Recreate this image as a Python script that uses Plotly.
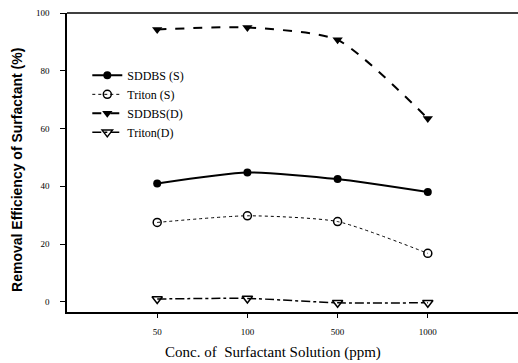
import plotly.graph_objects as go

conc = ["50", "100", "500", "1000"]
sddbs_s = [41.0, 44.8, 42.5, 38.0]
triton_s = [27.5, 29.8, 27.8, 16.8]
sddbs_d = [94.3, 95.0, 90.7, 63.5]
triton_d = [1.0, 1.2, -0.3, -0.3]
y_ticks = [0, 20, 40, 60, 80, 100]

xi = list(range(len(conc)))

fig = go.Figure()
fig.add_trace(go.Scatter(x=xi, y=sddbs_s, name="SDDBS (S)", mode="lines+markers",
                         line=dict(color="black", width=2, shape="spline", smoothing=0.6),
                         marker=dict(symbol="circle", size=8, color="black")))
fig.add_trace(go.Scatter(x=xi, y=triton_s, name="Triton (S)", mode="lines+markers",
                         line=dict(color="black", width=1, dash="dot", shape="spline", smoothing=0.6),
                         marker=dict(symbol="circle-open", size=8, color="black", line=dict(width=1.5))))
fig.add_trace(go.Scatter(x=xi, y=sddbs_d, name="SDDBS(D)", mode="lines+markers",
                         line=dict(color="black", width=2, dash="dash", shape="spline", smoothing=0.6),
                         marker=dict(symbol="triangle-down", size=9, color="black")))
fig.add_trace(go.Scatter(x=xi, y=triton_d, name="Triton(D)", mode="lines+markers",
                         line=dict(color="black", width=1.5, dash="dashdot", shape="spline", smoothing=0.6),
                         marker=dict(symbol="triangle-down-open", size=9, color="black", line=dict(width=1.5))))

serif = "Liberation Serif, Times New Roman, serif"
sans = "Liberation Sans, Arial, sans-serif"
fig.update_layout(
    width=518, height=363,
    margin=dict(l=67, r=0, t=13, b=51),
    paper_bgcolor="white", plot_bgcolor="white",
    font=dict(family=serif, color="black"),
    showlegend=True,
    legend=dict(x=0.045, y=0.84, xanchor="left", yanchor="top",
                font=dict(family=serif, size=12, color="black"),
                bgcolor="rgba(0,0,0,0)", tracegroupgap=0, itemwidth=30),
    xaxis=dict(range=[-1, 4], tickmode="array", tickvals=xi, ticktext=conc,
               showgrid=False, zeroline=False, showline=True, linecolor="black", linewidth=1.5,
               mirror=False, ticks="outside", ticklen=4, tickcolor="black",
               tickfont=dict(family=serif, size=9), ticklabelstandoff=6),
    yaxis=dict(range=[-3.5, 100], tickmode="array", tickvals=y_ticks,
               showgrid=False, zeroline=False, showline=True, linecolor="black", linewidth=1.5,
               ticks="outside", ticklen=5, tickcolor="black",
               tickfont=dict(family=serif, size=9), ticklabelstandoff=9),
    annotations=[
        dict(text="<b>Removal Efficiency of Surfactant (%)</b>", xref="paper", yref="paper",
             x=-0.111, y=0.475, xanchor="center", yanchor="middle", textangle=-90,
             showarrow=False, font=dict(family=sans, size=14, color="black")),
        dict(text="Conc. of  Surfactant Solution (ppm)", xref="paper", yref="paper",
             x=0.457, y=-0.134, xanchor="center", yanchor="middle",
             showarrow=False, font=dict(family=serif, size=15, color="black")),
    ],
)
# top frame line
fig.add_shape(type="line", xref="paper", yref="paper", x0=0, x1=1, y0=1, y1=1,
              line=dict(color="black", width=1.5))

fig.write_html("out.html")
